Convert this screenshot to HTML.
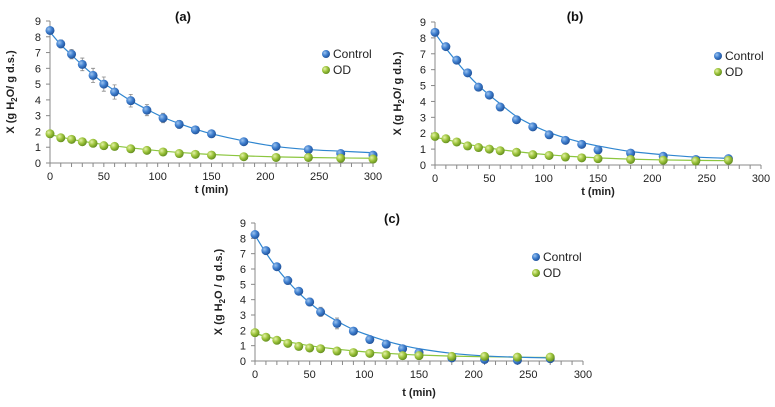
<!DOCTYPE html>
<html><head><meta charset="utf-8"><style>
body{margin:0;background:#fff;}
svg{display:block;font-family:"Liberation Sans",sans-serif;}
</style></head><body>
<svg id="c" width="775" height="407" viewBox="0 0 775 407">
<defs>
<radialGradient id="gb" cx="0.35" cy="0.35" r="0.7"><stop offset="0" stop-color="#9cc3ee"/><stop offset="0.5" stop-color="#3f7fcf"/><stop offset="1" stop-color="#1f4f95"/></radialGradient>
<radialGradient id="gg" cx="0.35" cy="0.35" r="0.7"><stop offset="0" stop-color="#e4f2a8"/><stop offset="0.5" stop-color="#9dc43c"/><stop offset="1" stop-color="#5f8a1c"/></radialGradient>
</defs>
</svg>
<script>
const timesA=[0,10,20,30,40,50,60,75,90,105,120,135,150,180,210,240,270,300];
const timesBC=[0,10,20,30,40,50,60,75,90,105,120,135,150,180,210,240,270];
const controlA=[8.4,7.55,6.9,6.25,5.55,5.0,4.5,3.95,3.35,2.85,2.45,2.1,1.85,1.35,1.05,0.85,0.6,0.5];
const odA=[1.85,1.6,1.5,1.35,1.25,1.1,1.05,0.9,0.8,0.7,0.6,0.55,0.5,0.4,0.35,0.35,0.3,0.25];
const errA=[0.2,0.25,0.3,0.4,0.45,0.45,0.45,0.4,0.35,0.3,0.25,0.2,0.15,0.1,0.1,0.1,0.1,0.1];
const fitControlA=[8.3,7.5,6.85,6.2,5.6,5.05,4.6,3.95,3.4,2.9,2.5,2.15,1.85,1.4,1.05,0.85,0.75,0.65];
const fitOdA=[1.8,1.65,1.5,1.38,1.27,1.17,1.08,0.96,0.85,0.75,0.67,0.6,0.54,0.45,0.39,0.35,0.32,0.3];
const controlB=[8.35,7.45,6.6,5.8,4.9,4.4,3.65,2.85,2.4,1.9,1.55,1.3,0.95,0.75,0.55,0.35,0.4];
const odB=[1.8,1.65,1.45,1.2,1.1,1.0,0.9,0.8,0.65,0.6,0.5,0.45,0.4,0.35,0.3,0.25,0.3];
const errB=[0.1,0.1,0.1,0.1,0.1,0.1,0.1,0.1,0.1,0.1,0.1,0.1,0.1,0.1,0.1,0.1,0.1];
const fitControlB=[8.3,7.35,6.5,5.7,5.0,4.4,3.85,3.05,2.5,2.05,1.7,1.42,1.2,0.85,0.65,0.5,0.42];
const fitOdB=[1.75,1.6,1.45,1.3,1.18,1.07,0.97,0.84,0.73,0.64,0.56,0.5,0.45,0.37,0.32,0.29,0.27];
const controlC=[8.25,7.2,6.15,5.25,4.55,3.85,3.2,2.45,1.95,1.4,1.1,0.8,0.55,0.2,0.1,0.05,0.15];
const odC=[1.85,1.55,1.35,1.15,0.95,0.85,0.8,0.65,0.55,0.5,0.4,0.35,0.35,0.3,0.3,0.25,0.25];
const errC=[0.15,0.15,0.15,0.25,0.2,0.25,0.3,0.35,0.15,0.15,0.1,0.1,0.1,0.1,0.1,0.1,0.1];
const fitControlC=[8.2,7.05,6.05,5.2,4.45,3.8,3.25,2.6,2.05,1.65,1.3,1.02,0.8,0.5,0.33,0.25,0.2];
const fitOdC=[1.8,1.6,1.42,1.26,1.12,1.0,0.9,0.77,0.66,0.57,0.5,0.44,0.39,0.32,0.28,0.25,0.23];
const xTicks=[0,50,100,150,200,250,300];
const yTicks=[0,1,2,3,4,5,6,7,8,9];

const NS="http://www.w3.org/2000/svg";
const svg=document.getElementById('c');
function mk(tag,attrs,parent,text){const e=document.createElementNS(NS,tag);for(const k in attrs)e.setAttribute(k,attrs[k]);if(text!==undefined)e.textContent=text;(parent||svg).appendChild(e);return e;}
function smooth(pts){let d=`M${pts[0][0]},${pts[0][1]}`;for(let i=0;i<pts.length-1;i++){const p0=pts[Math.max(0,i-1)],p1=pts[i],p2=pts[i+1],p3=pts[Math.min(pts.length-1,i+2)];const c1=[p1[0]+(p2[0]-p0[0])/6,p1[1]+(p2[1]-p0[1])/6],c2=[p2[0]-(p3[0]-p1[0])/6,p2[1]-(p3[1]-p1[1])/6];d+=`C${c1[0]},${c1[1]} ${c2[0]},${c2[1]} ${p2[0]},${p2[1]}`;}return d;}

function panel(cfg){
  const g=mk('g',{});
  
  
  const X=v=>cfg.x0+(cfg.x1-cfg.x0)*v/300, Y=v=>cfg.y0-(cfg.y0-cfg.y9)*v/9;
  const ax=mk('path',{d:`M${cfg.x0},${cfg.y9}V${cfg.y0}H${cfg.x1}`,stroke:'#888',fill:'none','stroke-width':1},g);
  
  
  for(let t=0;t<=300;t+=10){mk('line',{x1:X(t),x2:X(t),y1:cfg.y0,y2:cfg.y0+4,stroke:'#888'},g);}
  xTicks.forEach(t=>{const l=mk('text',{x:X(t),y:cfg.y0+17,'text-anchor':'middle','font-size':11,fill:'#222'},g,t);
    
    });
  yTicks.forEach(v=>{mk('line',{x1:cfg.x0-4,x2:cfg.x0,y1:Y(v),y2:Y(v),stroke:'#888'},g);
    const l=mk('text',{x:cfg.x0-9,y:Y(v)+4,'text-anchor':'end','font-size':11,fill:'#222'},g,v);
    
    });
  const xt=mk('text',{x:(cfg.x0+cfg.x1)/2,y:cfg.y0+(cfg.id==='c'?35:30),'text-anchor':'middle','font-size':11,'font-weight':'bold',fill:'#222'},g,'t (min)');
  
  
  const cy=(cfg.y0+cfg.y9)/2;
  const yt=mk('text',{x:cfg.yx,y:cy,'text-anchor':'middle','font-size':11,'font-weight':'bold',fill:'#222',transform:`rotate(-90 ${cfg.yx} ${cy})`},g);
  yt.innerHTML=`X (g H<tspan font-size="8" dy="3">2</tspan><tspan dy="-3">O${cfg.sp}/ g ${cfg.unit})</tspan>`;
  
  
  const tt=mk('text',{x:cfg.tx,y:cfg.ty,'text-anchor':'middle','font-size':13,'font-weight':'bold',fill:'#111'},g,`(${cfg.id})`);
  
  
  [[cfg.fitOd,'#8cc63f'],[cfg.fitC,'#2f86d0']].forEach(([f,c])=>{
    const p=mk('path',{d:smooth(cfg.t.map((t,i)=>[X(t),Y(f[i])])),stroke:c,'stroke-width':1.2,fill:'none'},g);
    
    });
  cfg.t.forEach((t,i)=>{
    const e=cfg.err[i];
    mk('path',{d:`M${X(t)},${Y(cfg.ctrl[i]-e)}V${Y(cfg.ctrl[i]+e)}M${X(t)-2},${Y(cfg.ctrl[i]+e)}h4M${X(t)-2},${Y(cfg.ctrl[i]-e)}h4`,stroke:'#888','stroke-width':0.8,fill:'none'},g);
    const a=mk('circle',{cx:X(t),cy:Y(cfg.ctrl[i]),r:4.5,fill:'url(#gb)'},g);
    
    
    const b=mk('circle',{cx:X(t),cy:Y(cfg.od[i]),r:4.5,fill:'url(#gg)'},g);
    
    
  });
  [['Control','url(#gb)',cfg.ly],['OD','url(#gg)',cfg.ly+16]].forEach(([n,f,y])=>{
    mk('circle',{cx:cfg.lx,cy:y,r:4,fill:f},g);
    const l=mk('text',{x:cfg.lx+7,y:y+4,'font-size':12,fill:'#222'},g,n);
    
    
  });
}
panel({id:'a',x0:50,x1:373,y0:163,y9:21,t:timesA,ctrl:controlA,od:odA,err:errA,fitC:fitControlA,fitOd:fitOdA,yx:14,sp:'',unit:'d.s.',tx:183,ty:21,lx:326,ly:54});
panel({id:'b',x0:435,x1:761,y0:165,y9:22,t:timesBC,ctrl:controlB,od:odB,err:errB,fitC:fitControlB,fitOd:fitOdB,yx:401,sp:'',unit:'d.b.',tx:575,ty:21,lx:718,ly:56});
panel({id:'c',x0:255,x1:583,y0:361,y9:223,t:timesBC,ctrl:controlC,od:odC,err:errC,fitC:fitControlC,fitOd:fitOdC,yx:222,sp:' ',unit:'d.s.',tx:392,ty:223,lx:536,ly:257});
</script>
</body></html>
